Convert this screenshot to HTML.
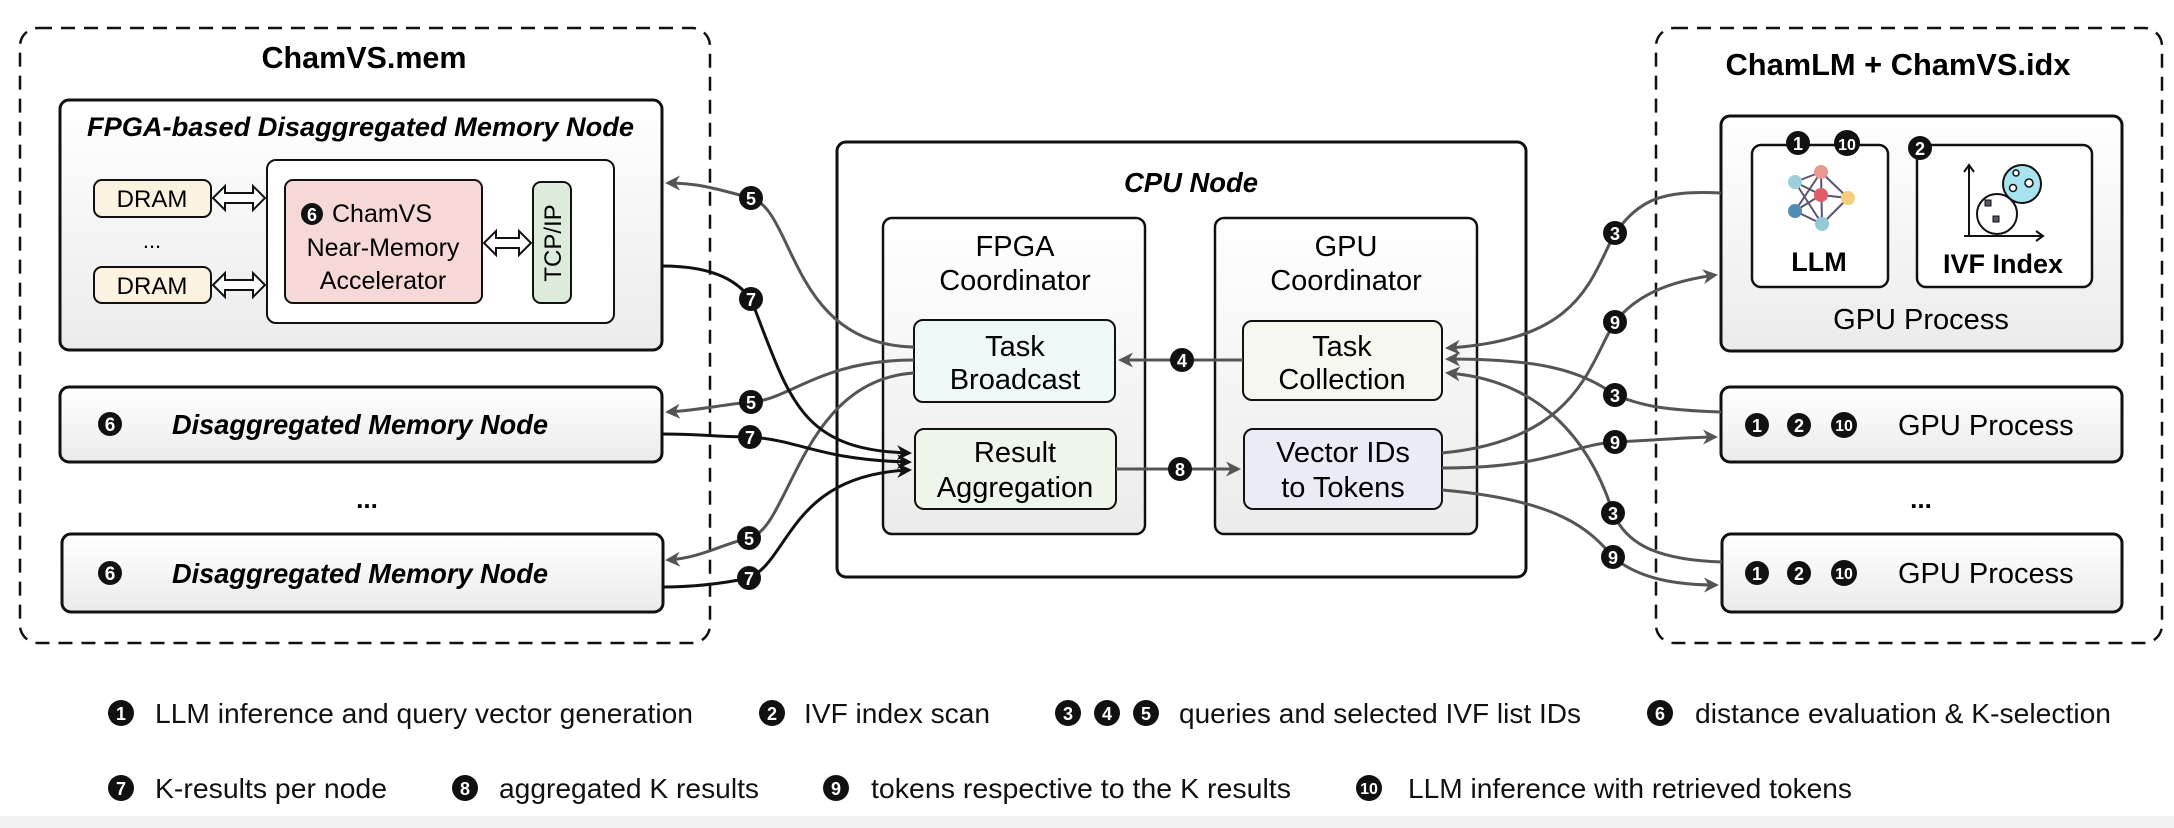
<!DOCTYPE html>
<html><head><meta charset="utf-8"><style>
html,body{margin:0;padding:0;background:#fff;}
svg{display:block;font-family:"Liberation Sans",Arial,sans-serif;}
</style></head><body>
<svg width="2174" height="828" viewBox="0 0 2174 828" xmlns="http://www.w3.org/2000/svg">
<defs>
<linearGradient id="g" x1="0" y1="0" x2="0" y2="1"><stop offset="0" stop-color="#ffffff"/><stop offset="1" stop-color="#ebebeb"/></linearGradient>
<marker id="ag" viewBox="0 0 10 10" refX="8" refY="5" markerWidth="5" markerHeight="5" orient="auto"><path d="M0,0 L10,5 L0,10 L3,5 z" fill="#555"/></marker>
<marker id="ab" viewBox="0 0 10 10" refX="8" refY="5" markerWidth="5" markerHeight="5" orient="auto"><path d="M0,0 L10,5 L0,10 L3,5 z" fill="#111"/></marker>
</defs>
<rect x="0" y="816" width="2174" height="12" fill="#f2f2f2"/>

<!-- left dashed -->
<rect x="20" y="28" width="690" height="615" rx="18" fill="none" stroke="#111" stroke-width="2.5" stroke-dasharray="14,9"/>
<text x="364" y="68" font-size="31" font-weight="bold" text-anchor="middle" textLength="205" lengthAdjust="spacingAndGlyphs">ChamVS.mem</text>

<rect x="60" y="100" width="602" height="250" rx="9" fill="url(#g)" stroke="#111" stroke-width="3"/>
<text x="87" y="136" font-size="27" font-weight="bold" font-style="italic" textLength="547" lengthAdjust="spacingAndGlyphs">FPGA-based Disaggregated Memory Node</text>
<rect x="94" y="180" width="117" height="37" rx="8" fill="#fbf2df" stroke="#111" stroke-width="2"/>
<text x="152" y="207" font-size="24" text-anchor="middle">DRAM</text>
<rect x="94" y="267" width="117" height="36" rx="8" fill="#fbf2df" stroke="#111" stroke-width="2"/>
<text x="152" y="294" font-size="24" text-anchor="middle">DRAM</text>
<text x="152" y="248" font-size="22" text-anchor="middle">...</text>
<rect x="267" y="160" width="347" height="163" rx="9" fill="#fff" stroke="#111" stroke-width="2"/>
<rect x="285" y="180" width="197" height="123" rx="8" fill="#f6d9d6" stroke="#111" stroke-width="2"/>
<circle cx="312" cy="214" r="11" fill="#111"/><text x="312" y="221" font-size="18" font-weight="bold" fill="#fff" text-anchor="middle">6</text>
<text x="332" y="222" font-size="25">ChamVS</text>
<text x="383" y="256" font-size="25" text-anchor="middle">Near-Memory</text>
<text x="383" y="289" font-size="25" text-anchor="middle">Accelerator</text>
<rect x="533" y="182" width="38" height="121" rx="8" fill="#dcebdc" stroke="#111" stroke-width="2"/>
<text transform="translate(561,243) rotate(-90)" font-size="24" text-anchor="middle">TCP/IP</text>
<g fill="#fff" stroke="#111" stroke-width="2">
<path d="M213,198 L225,186 L225,193 L253,193 L253,186 L265,198 L253,210 L253,203 L225,203 L225,210 Z"/>
<path d="M213,285 L225,273 L225,280 L253,280 L253,273 L265,285 L253,297 L253,290 L225,290 L225,297 Z"/>
<path d="M484,243 L496,231 L496,238 L519,238 L519,231 L531,243 L519,255 L519,248 L496,248 L496,255 Z"/>
</g>

<rect x="60" y="387" width="602" height="75" rx="9" fill="url(#g)" stroke="#111" stroke-width="3"/>
<circle cx="110" cy="424" r="12" fill="#111"/><text x="110" y="431" font-size="19" font-weight="bold" fill="#fff" text-anchor="middle">6</text>
<text x="172" y="434" font-size="28" font-weight="bold" font-style="italic" textLength="376" lengthAdjust="spacingAndGlyphs">Disaggregated Memory Node</text>
<text x="367" y="508" font-size="26" font-weight="bold" text-anchor="middle">...</text>
<rect x="62" y="534" width="601" height="78" rx="9" fill="url(#g)" stroke="#111" stroke-width="3"/>
<circle cx="110" cy="573" r="12" fill="#111"/><text x="110" y="580" font-size="19" font-weight="bold" fill="#fff" text-anchor="middle">6</text>
<text x="172" y="583" font-size="28" font-weight="bold" font-style="italic" textLength="376" lengthAdjust="spacingAndGlyphs">Disaggregated Memory Node</text>

<!-- CPU Node -->
<rect x="837" y="142" width="689" height="435" rx="9" fill="#fff" stroke="#111" stroke-width="3"/>
<text x="1124" y="192" font-size="28" font-weight="bold" font-style="italic" textLength="134" lengthAdjust="spacingAndGlyphs">CPU Node</text>
<rect x="883" y="218" width="262" height="316" rx="9" fill="url(#g)" stroke="#111" stroke-width="2.5"/>
<text x="1015" y="256" font-size="29" text-anchor="middle">FPGA</text>
<text x="1015" y="290" font-size="29" text-anchor="middle">Coordinator</text>
<rect x="914" y="320" width="201" height="82" rx="9" fill="#eef8f8" stroke="#111" stroke-width="2"/>
<text x="1015" y="356" font-size="29" text-anchor="middle">Task</text>
<text x="1015" y="389" font-size="29" text-anchor="middle">Broadcast</text>
<rect x="915" y="429" width="201" height="80" rx="9" fill="#eef5ea" stroke="#111" stroke-width="2"/>
<text x="1015" y="462" font-size="29" text-anchor="middle">Result</text>
<text x="1015" y="497" font-size="29" text-anchor="middle">Aggregation</text>

<rect x="1215" y="218" width="262" height="316" rx="9" fill="url(#g)" stroke="#111" stroke-width="2.5"/>
<text x="1346" y="256" font-size="29" text-anchor="middle">GPU</text>
<text x="1346" y="290" font-size="29" text-anchor="middle">Coordinator</text>
<rect x="1243" y="321" width="199" height="79" rx="9" fill="#f6f7ee" stroke="#111" stroke-width="2"/>
<text x="1342" y="356" font-size="29" text-anchor="middle">Task</text>
<text x="1342" y="389" font-size="29" text-anchor="middle">Collection</text>
<rect x="1244" y="429" width="198" height="80" rx="9" fill="#ebebf5" stroke="#111" stroke-width="2"/>
<text x="1343" y="462" font-size="29" text-anchor="middle">Vector IDs</text>
<text x="1343" y="497" font-size="29" text-anchor="middle">to Tokens</text>

<!-- right dashed -->
<rect x="1656" y="28" width="506" height="615" rx="18" fill="none" stroke="#111" stroke-width="2.5" stroke-dasharray="14,9"/>
<text x="1898" y="75" font-size="31" font-weight="bold" text-anchor="middle" textLength="345" lengthAdjust="spacingAndGlyphs">ChamLM + ChamVS.idx</text>
<rect x="1721" y="116" width="401" height="235" rx="9" fill="url(#g)" stroke="#111" stroke-width="3"/>
<rect x="1752" y="145" width="136" height="142" rx="9" fill="#fff" stroke="#111" stroke-width="2.5"/>
<rect x="1917" y="145" width="175" height="142" rx="9" fill="#fff" stroke="#111" stroke-width="2.5"/>
<g stroke="#5a5470" stroke-width="2">
<line x1="1795" y1="182" x2="1821" y2="172"/><line x1="1795" y1="182" x2="1821" y2="195"/><line x1="1795" y1="182" x2="1822" y2="224"/>
<line x1="1821" y1="172" x2="1848" y2="198"/><line x1="1821" y1="172" x2="1795" y2="211"/><line x1="1821" y1="195" x2="1848" y2="198"/>
<line x1="1821" y1="195" x2="1795" y2="211"/><line x1="1795" y1="211" x2="1822" y2="224"/><line x1="1848" y1="198" x2="1822" y2="224"/><line x1="1821" y1="172" x2="1822" y2="224"/>
</g>
<circle cx="1795" cy="182" r="7" fill="#9ccfda"/><circle cx="1821" cy="172" r="7" fill="#e89a90"/><circle cx="1821" cy="195" r="7" fill="#df5d6a"/>
<circle cx="1848" cy="198" r="7" fill="#f6cf7e"/><circle cx="1795" cy="211" r="7" fill="#4f8eb3"/><circle cx="1822" cy="224" r="7" fill="#94cad6"/>
<text x="1819" y="271" font-size="27" font-weight="bold" text-anchor="middle">LLM</text>
<g stroke="#111" stroke-width="2" fill="none">
<path d="M1969,237 L1969,165 M1964,172 L1969,165 L1974,172"/>
<path d="M1964,236 L2043,236 M2036,231 L2043,236 L2036,241"/>
</g>
<circle cx="1997" cy="214" r="20" fill="#fff" stroke="#111" stroke-width="2"/>
<circle cx="2022" cy="184" r="19" fill="#a8e4ef" stroke="#111" stroke-width="2"/>
<rect x="1985" y="200" width="6" height="6" fill="#556" stroke="#111"/><rect x="1993" y="216" width="6" height="6" fill="#556" stroke="#111"/>
<g fill="#fff" stroke="#111" stroke-width="1.5"><circle cx="2016" cy="173" r="3"/><circle cx="2013" cy="188" r="3.5"/><circle cx="2029" cy="183" r="4"/></g>
<text x="2003" y="273" font-size="27" font-weight="bold" text-anchor="middle">IVF Index</text>
<text x="1921" y="329" font-size="29" text-anchor="middle">GPU Process</text>
<g font-weight="bold" fill="#fff" text-anchor="middle">
<circle cx="1798" cy="143" r="12" fill="#111"/><text x="1798" y="150" font-size="18">1</text>
<circle cx="1847" cy="143" r="13" fill="#111"/><text x="1847" y="150" font-size="16">10</text>
<circle cx="1920" cy="148" r="12" fill="#111"/><text x="1920" y="155" font-size="18">2</text>
</g>

<rect x="1721" y="387" width="401" height="75" rx="9" fill="url(#g)" stroke="#111" stroke-width="3"/>
<rect x="1722" y="534" width="400" height="78" rx="9" fill="url(#g)" stroke="#111" stroke-width="3"/>
<g font-weight="bold" fill="#fff" text-anchor="middle">
<circle cx="1757" cy="425" r="12" fill="#111"/><text x="1757" y="432" font-size="18">1</text>
<circle cx="1799" cy="425" r="12" fill="#111"/><text x="1799" y="432" font-size="18">2</text>
<circle cx="1844" cy="425" r="13" fill="#111"/><text x="1844" y="431" font-size="16">10</text>
<circle cx="1757" cy="573" r="12" fill="#111"/><text x="1757" y="580" font-size="18">1</text>
<circle cx="1799" cy="573" r="12" fill="#111"/><text x="1799" y="580" font-size="18">2</text>
<circle cx="1844" cy="573" r="13" fill="#111"/><text x="1844" y="579" font-size="16">10</text>
</g>
<text x="1898" y="435" font-size="29">GPU Process</text>
<text x="1898" y="583" font-size="29">GPU Process</text>
<text x="1921" y="508" font-size="26" font-weight="bold" text-anchor="middle">...</text>

<!-- connectors -->
<g fill="none" stroke="#555" stroke-width="3" marker-end="url(#ag)">
<path d="M914,347 C 790,345 795,210 751,198 C 720,190 700,183 668,183"/>
<path d="M914,360 C 820,360 790,400 751,402 C 720,405 700,410 668,412"/>
<path d="M914,373 C 800,380 790,530 749,538 C 720,545 700,558 668,560"/>
<path d="M1243,360 L1121,360"/>
<path d="M1116,469 L1238,469"/>
<path d="M1721,193 C 1660,190 1640,200 1615,233 C 1590,280 1580,340 1448,348"/>
<path d="M1442,453 C 1580,440 1590,360 1615,322 C 1640,290 1680,280 1715,275"/>
<path d="M1721,412 C 1660,410 1640,405 1615,395 C 1580,370 1540,359 1448,359"/>
<path d="M1442,468 C 1550,468 1570,445 1615,442 C 1660,440 1690,437 1715,437"/>
<path d="M1722,562 C 1650,560 1625,540 1613,513 C 1590,440 1540,380 1448,373"/>
<path d="M1442,490 C 1560,500 1590,530 1613,557 C 1640,580 1680,585 1716,585"/>
</g>
<g fill="none" stroke="#111" stroke-width="3" marker-end="url(#ab)">
<path d="M662,266 C 720,266 740,285 751,299 C 790,400 800,450 909,453"/>
<path d="M662,434 C 700,434 720,437 750,437 C 800,440 820,460 909,462"/>
<path d="M662,587 C 700,587 730,582 749,578 C 790,560 790,475 909,470"/>
</g>
<g font-weight="bold" fill="#fff" text-anchor="middle" font-size="18">
<circle cx="751" cy="198" r="12" fill="#111"/><text x="751" y="205">5</text>
<circle cx="751" cy="402" r="12" fill="#111"/><text x="751" y="409">5</text>
<circle cx="749" cy="538" r="12" fill="#111"/><text x="749" y="545">5</text>
<circle cx="751" cy="299" r="12" fill="#111"/><text x="751" y="306">7</text>
<circle cx="750" cy="437" r="12" fill="#111"/><text x="750" y="444">7</text>
<circle cx="749" cy="578" r="12" fill="#111"/><text x="749" y="585">7</text>
<circle cx="1182" cy="360" r="12" fill="#111"/><text x="1182" y="367">4</text>
<circle cx="1180" cy="469" r="12" fill="#111"/><text x="1180" y="476">8</text>
<circle cx="1615" cy="233" r="12" fill="#111"/><text x="1615" y="240">3</text>
<circle cx="1615" cy="322" r="12" fill="#111"/><text x="1615" y="329">9</text>
<circle cx="1615" cy="395" r="12" fill="#111"/><text x="1615" y="402">3</text>
<circle cx="1615" cy="442" r="12" fill="#111"/><text x="1615" y="449">9</text>
<circle cx="1613" cy="513" r="12" fill="#111"/><text x="1613" y="520">3</text>
<circle cx="1613" cy="557" r="12" fill="#111"/><text x="1613" y="564">9</text>
</g>

<!-- legend -->
<g font-weight="bold" fill="#fff" text-anchor="middle" font-size="18">
<circle cx="121" cy="713" r="13" fill="#111"/><text x="121" y="720">1</text>
<circle cx="772" cy="713" r="13" fill="#111"/><text x="772" y="720">2</text>
<circle cx="1068" cy="713" r="13" fill="#111"/><text x="1068" y="720">3</text>
<circle cx="1107" cy="713" r="13" fill="#111"/><text x="1107" y="720">4</text>
<circle cx="1146" cy="713" r="13" fill="#111"/><text x="1146" y="720">5</text>
<circle cx="1660" cy="713" r="13" fill="#111"/><text x="1660" y="720">6</text>
<circle cx="121" cy="788" r="13" fill="#111"/><text x="121" y="795">7</text>
<circle cx="465" cy="788" r="13" fill="#111"/><text x="465" y="795">8</text>
<circle cx="836" cy="788" r="13" fill="#111"/><text x="836" y="795">9</text>
<circle cx="1369" cy="788" r="13" fill="#111"/><text x="1369" y="794" font-size="16">10</text>
</g>
<g font-size="28" fill="#111">
<text x="155" y="723" textLength="538" lengthAdjust="spacingAndGlyphs">LLM inference and query vector generation</text>
<text x="804" y="723" textLength="186" lengthAdjust="spacingAndGlyphs">IVF index scan</text>
<text x="1179" y="723" textLength="402" lengthAdjust="spacingAndGlyphs">queries and selected IVF list IDs</text>
<text x="1695" y="723" textLength="416" lengthAdjust="spacingAndGlyphs">distance evaluation &amp; K-selection</text>
<text x="155" y="798" textLength="232" lengthAdjust="spacingAndGlyphs">K-results per node</text>
<text x="499" y="798" textLength="260" lengthAdjust="spacingAndGlyphs">aggregated K results</text>
<text x="871" y="798" textLength="420" lengthAdjust="spacingAndGlyphs">tokens respective to the K results</text>
<text x="1408" y="798" textLength="444" lengthAdjust="spacingAndGlyphs">LLM inference with retrieved tokens</text>
</g>
</svg>
</body></html>
